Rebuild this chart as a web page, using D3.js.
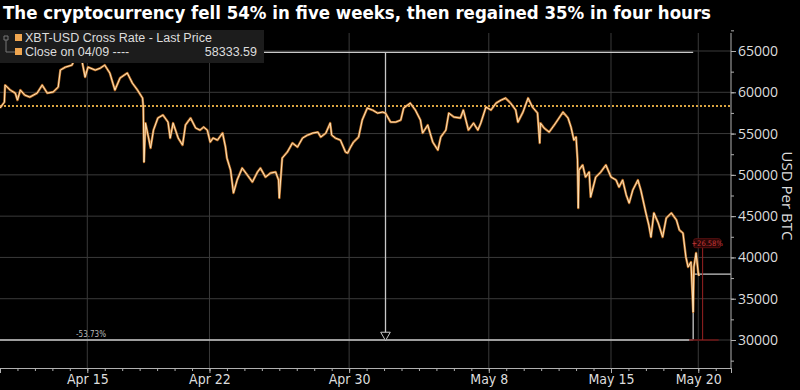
<!DOCTYPE html>
<html>
<head>
<meta charset="utf-8">
<script src="https://cdnjs.cloudflare.com/ajax/libs/d3/7.8.5/d3.min.js"></script>
<style>
  html, body { margin: 0; padding: 0; background: #000; }
  svg { display: block; }
</style>
</head>
<body>
<svg id="chart" width="800" height="390"></svg>
<script>
// XBT-USD price (roughly every few hours)
const times = [
  "2021-04-10 00","2021-04-10 06","2021-04-10 07","2021-04-10 10","2021-04-10 14","2021-04-10 21",
  "2021-04-11 00","2021-04-11 04","2021-04-11 10","2021-04-11 17","2021-04-12 03","2021-04-12 10",
  "2021-04-12 17","2021-04-13 01","2021-04-13 08","2021-04-13 11","2021-04-13 18","2021-04-14 03",
  "2021-04-14 11","2021-04-14 17","2021-04-14 21","2021-04-15 01","2021-04-15 11","2021-04-15 18",
  "2021-04-16 00","2021-04-16 07","2021-04-16 14","2021-04-16 21","2021-04-17 07","2021-04-17 14",
  "2021-04-17 21","2021-04-18 04","2021-04-18 05","2021-04-18 06","2021-04-18 08","2021-04-18 12",
  "2021-04-18 15","2021-04-18 19","2021-04-19 01","2021-04-19 08","2021-04-19 15","2021-04-19 18",
  "2021-04-19 22","2021-04-20 05","2021-04-20 11","2021-04-20 15","2021-04-20 22","2021-04-21 05",
  "2021-04-21 11","2021-04-21 16","2021-04-21 21","2021-04-22 01","2021-04-22 05","2021-04-22 11",
  "2021-04-22 18","2021-04-22 22","2021-04-23 00","2021-04-23 05","2021-04-23 09","2021-04-23 14",
  "2021-04-23 21","2021-04-24 04","2021-04-24 11","2021-04-24 18","2021-04-24 22","2021-04-25 05",
  "2021-04-25 12","2021-04-25 19","2021-04-25 23","2021-04-26 00","2021-04-26 04","2021-04-26 11",
  "2021-04-26 18","2021-04-27 01","2021-04-27 08","2021-04-27 15","2021-04-27 22","2021-04-28 05",
  "2021-04-28 09","2021-04-28 16","2021-04-28 22","2021-04-29 00","2021-04-29 05","2021-04-29 12",
  "2021-04-29 19","2021-04-29 22","2021-04-30 02","2021-04-30 06","2021-04-30 13","2021-04-30 18",
  "2021-05-01 01","2021-05-01 08","2021-05-01 15","2021-05-01 22","2021-05-02 02","2021-05-02 09",
  "2021-05-02 16","2021-05-02 23","2021-05-03 03","2021-05-03 12","2021-05-03 19","2021-05-04 02",
  "2021-05-04 05","2021-05-04 12","2021-05-04 19","2021-05-05 02","2021-05-05 06","2021-05-05 13",
  "2021-05-05 17","2021-05-06 00","2021-05-06 09","2021-05-06 13","2021-05-06 20","2021-05-07 03",
  "2021-05-07 09","2021-05-07 13","2021-05-07 20","2021-05-08 03","2021-05-08 10","2021-05-08 17",
  "2021-05-08 23","2021-05-09 06","2021-05-09 13","2021-05-09 16","2021-05-09 23","2021-05-10 06",
  "2021-05-10 12","2021-05-10 19","2021-05-10 22","2021-05-10 23","2021-05-11 04","2021-05-11 11",
  "2021-05-11 18","2021-05-12 06","2021-05-12 13","2021-05-12 17","2021-05-12 21","2021-05-13 00",
  "2021-05-13 02","2021-05-13 03","2021-05-13 04","2021-05-13 09","2021-05-13 13","2021-05-13 18",
  "2021-05-13 20","2021-05-14 03","2021-05-14 10","2021-05-14 17","2021-05-15 00","2021-05-15 07",
  "2021-05-15 11","2021-05-15 16","2021-05-15 21","2021-05-16 01","2021-05-16 06","2021-05-16 13",
  "2021-05-16 17","2021-05-17 00","2021-05-17 04","2021-05-17 07","2021-05-17 11","2021-05-17 17",
  "2021-05-17 23","2021-05-18 04","2021-05-18 11","2021-05-18 18","2021-05-18 22","2021-05-19 03",
  "2021-05-19 07","2021-05-19 10","2021-05-19 14","2021-05-19 17","2021-05-19 18","2021-05-19 21",
  "2021-05-20 00","2021-05-20 01"
];
const prices = [
  58090,58810,60870,60630,60270,59900,
  59060,60270,59660,59420,59900,60870,
  59900,60030,60630,62690,63050,63290,
  64836,63660,61840,63050,62690,62930,
  63290,62330,60270,61720,62330,61110,
  60270,59300,58210,51550,56270,54580,
  53250,55420,56880,57240,56390,54460,
  56270,54460,53610,56030,56880,55670,
  55420,55790,55420,53970,54460,54210,
  55060,53370,52030,50580,47800,49370,
  50820,49980,49130,50340,50820,49730,
  50220,50340,49370,47190,52030,52760,
  53850,53370,54460,54820,55060,55180,
  54580,55060,56270,54820,54460,54210,
  52760,52640,53370,53970,54580,56640,
  58090,57850,57480,57600,57480,56390,
  56390,56640,58090,58690,57850,56640,
  55060,56030,53970,53000,54580,55420,
  57480,57000,56880,57850,55420,56270,
  55420,56270,58210,57850,58690,59060,
  59300,58690,57850,56390,57600,59300,
  58210,57480,53850,56270,55670,55180,
  56030,57600,56880,55790,54210,54580,
  51790,45980,50580,51190,49730,50340,
  47310,49730,50340,51190,49730,49370,
  48520,49370,47550,46590,48160,49370,
  48160,45380,43920,42470,45380,44170,
  42470,44770,45380,44530,43320,42950,
  40050,38840,39440,33390,38840,40530,
  38110,37750
];

const tickDates = ["2021-04-15 00","2021-04-22 00","2021-04-30 00","2021-05-08 00","2021-05-15 00","2021-05-20 00"];
const tickLabels = ["Apr 15","Apr 22","Apr 30","May 8","May 15","May 20"];
const yTicks = [30000,35000,40000,45000,50000,55000,60000,65000];

const closeValue = 58333.59;           // close on 04/09
const highPoint = ["2021-04-14 11", 64836];
const lowPoint = ["2021-05-19 17", 30000];
const reboundValue = 37974;            // low + 26.58%
const reboundMark = ["2021-05-20 06", 41300];
const dropLabel = "-53.73%";
const riseLabel = "+26.58%";

const title = "The cryptocurrency fell 54% in five weeks, then regained 35% in four hours";

const parse = d3.timeParse("%Y-%m-%d %H");
const data = times.map((t, i) => ({ date: parse(t), value: prices[i] }));

const svg = d3.select("#chart");
const plotLeft = 0, plotRight = 731, plotTop = 33, plotBottom = 368;

const x = d3.scaleTime()
  .domain([parse("2021-04-10 00"), parse("2021-05-21 21")])
  .range([plotLeft, plotRight]);

const y = d3.scaleLinear()
  .domain([30000, 65000])
  .range([340, 51]);

// title
svg.append("text")
  .attr("x", 3).attr("y", 19)
  .attr("fill", "#fff")
  .attr("font-family", "'DejaVu Sans Condensed', 'DejaVu Sans', sans-serif")
  .attr("font-weight", "bold")
  .attr("font-size", 17)
  .attr("textLength", 708)
  .attr("lengthAdjust", "spacingAndGlyphs")
  .text(title);

// grid
const grid = svg.append("g");
grid.selectAll(".hg").data(yTicks).enter().append("line")
  .attr("x1", plotLeft).attr("x2", plotRight)
  .attr("y1", d => y(d)).attr("y2", d => y(d))
  .attr("stroke", "#3a3a3a").attr("stroke-width", 1);
grid.selectAll(".vg").data(tickDates).enter().append("line")
  .attr("x1", d => x(parse(d))).attr("x2", d => x(parse(d)))
  .attr("y1", plotTop).attr("y2", plotBottom)
  .attr("stroke", "#3a3a3a").attr("stroke-width", 1);

// close on 04/09 dotted line
svg.append("line")
  .attr("x1", plotLeft).attr("x2", plotRight)
  .attr("y1", y(closeValue)).attr("y2", y(closeValue))
  .attr("stroke", "#d9a441").attr("stroke-width", 2)
  .attr("stroke-dasharray", "2,2");

// drawdown annotation (grey)
const annColor = "#c8c8c8";
const hx = x(parse(highPoint[0])), lx = x(parse(lowPoint[0]));
const midX = (hx + lx) / 2;
svg.append("line")
  .attr("x1", hx).attr("x2", lx)
  .attr("y1", y(highPoint[1])).attr("y2", y(highPoint[1]))
  .attr("stroke", annColor).attr("stroke-width", 1.3);
svg.append("line")
  .attr("x1", plotLeft).attr("x2", lx)
  .attr("y1", y(lowPoint[1])).attr("y2", y(lowPoint[1]))
  .attr("stroke", annColor).attr("stroke-width", 1.3);
svg.append("line")
  .attr("x1", midX).attr("x2", midX)
  .attr("y1", y(highPoint[1])).attr("y2", y(lowPoint[1]) - 2)
  .attr("stroke", annColor).attr("stroke-width", 1.3);
svg.append("path")
  .attr("d", d3.symbol().type(d3.symbolTriangle).size(40))
  .attr("transform", `translate(${midX},${y(lowPoint[1]) - 5}) rotate(180)`)
  .attr("fill", "#000").attr("stroke", annColor).attr("stroke-width", 1);
svg.append("text")
  .attr("x", 76).attr("y", y(lowPoint[1]) - 3)
  .attr("fill", "#bbb").attr("font-size", 8)
  .attr("font-family", "'DejaVu Sans Condensed', sans-serif")
  .text(dropLabel);

// rebound annotation
svg.append("line")
  .attr("x1", lx).attr("x2", lx)
  .attr("y1", y(lowPoint[1])).attr("y2", y(reboundValue))
  .attr("stroke", annColor).attr("stroke-width", 1.3);
svg.append("line")
  .attr("x1", lx).attr("x2", plotRight)
  .attr("y1", y(reboundValue)).attr("y2", y(reboundValue))
  .attr("stroke", annColor).attr("stroke-width", 1.3);

// price line: orange glow + light core
const line = d3.line().x(d => x(d.date)).y(d => y(d.value));
svg.append("path").datum(data)
  .attr("d", line).attr("fill", "none")
  .attr("stroke", "#e08a35").attr("stroke-width", 2.4)
  .attr("stroke-opacity", 0.85).attr("stroke-linejoin", "round");
svg.append("path").datum(data)
  .attr("d", line).attr("fill", "none")
  .attr("stroke", "#ffe3b8").attr("stroke-width", 1)
  .attr("stroke-linejoin", "round");

// red rebound marker (dim, as in the original)
const rx = x(parse(reboundMark[0]));
const red = svg.append("g");
red.append("line")
  .attr("x1", lx - 4).attr("x2", rx + 16)
  .attr("y1", y(lowPoint[1])).attr("y2", y(lowPoint[1]))
  .attr("stroke", "#6a1414").attr("stroke-width", 2).attr("stroke-opacity", 0.8);
red.append("line")
  .attr("x1", rx).attr("x2", rx)
  .attr("y1", y(lowPoint[1])).attr("y2", y(reboundMark[1]))
  .attr("stroke", "#9a2222").attr("stroke-width", 1);
red.append("rect")
  .attr("x", rx - 9).attr("y", y(reboundMark[1]) - 8)
  .attr("width", 27).attr("height", 9).attr("rx", 2)
  .attr("fill", "#2a0606").attr("stroke", "#5a1010").attr("stroke-width", 1);
red.append("text")
  .attr("x", rx + 4.5).attr("y", y(reboundMark[1]) - 1)
  .attr("text-anchor", "middle")
  .attr("fill", "#c03636").attr("font-size", 7.5)
  .attr("font-family", "'DejaVu Sans Condensed', sans-serif")
  .text(riseLabel);

// x axis
const axisColor = "#b0b0b0";
const xMinor = svg.append("g")
  .attr("transform", `translate(0,${plotBottom})`)
  .call(d3.axisBottom(x).ticks(d3.timeDay.every(1)).tickSize(3).tickFormat(""));
const xAxis = svg.append("g")
  .attr("transform", `translate(0,${plotBottom})`)
  .call(d3.axisBottom(x).tickValues(tickDates.map(parse)).tickSize(5)
    .tickFormat((d, i) => tickLabels[i]));
[xMinor, xAxis].forEach(g => {
  g.selectAll("path, line").attr("stroke", axisColor);
});
xAxis.selectAll("text")
  .attr("fill", "#ddd").attr("font-size", 14).attr("dy", "0.6em")
  .attr("font-family", "'DejaVu Sans Condensed', sans-serif");

// y axis on the right
const yMinor = svg.append("g")
  .attr("transform", `translate(${plotRight},0)`)
  .call(d3.axisRight(y).tickValues(d3.range(27500, 67501, 2500)).tickSize(3).tickFormat(""));
yMinor.select(".domain").remove();
const yAxis = svg.append("g")
  .attr("transform", `translate(${plotRight},0)`)
  .call(d3.axisRight(y).tickValues(yTicks).tickSize(5).tickFormat(d3.format("d")));
yAxis.select(".domain").remove();
[yMinor, yAxis].forEach(g => g.selectAll("line").attr("stroke", axisColor));
yAxis.selectAll("text")
  .attr("fill", "#ddd").attr("font-size", 14).attr("x", 7)
  .attr("font-family", "'Open Sans', 'DejaVu Sans', sans-serif");
svg.append("line")
  .attr("x1", plotRight).attr("x2", plotRight)
  .attr("y1", plotTop).attr("y2", plotBottom)
  .attr("stroke", axisColor);

svg.append("text")
  .attr("transform", "translate(782,196) rotate(90)")
  .attr("text-anchor", "middle")
  .attr("fill", "#ddd").attr("font-size", 15)
  .attr("font-family", "'Open Sans', 'DejaVu Sans', sans-serif")
  .text("USD Per BTC");

// legend
const legend = svg.append("g");
legend.append("rect")
  .attr("x", 0).attr("y", 30).attr("width", 264).attr("height", 33)
  .attr("fill", "#1c1c1c");
legend.append("path")
  .attr("d", "M4,36 h4 v4 h-4 z M6,40 v12 h9")
  .attr("fill", "none").attr("stroke", "#777").attr("stroke-width", 1);
const legendRows = [
  { label: "XBT-USD Cross Rate - Last Price", value: "" },
  { label: "Close on 04/09 ----", value: d3.format(".2f")(closeValue) }
];
legendRows.forEach((r, i) => {
  const cy = 38 + i * 14;
  legend.append("rect")
    .attr("x", 15).attr("y", cy - 4).attr("width", 7).attr("height", 7)
    .attr("fill", "#f0a650");
  legend.append("text")
    .attr("x", 25).attr("y", cy + 4)
    .attr("fill", "#ddd").attr("font-size", 12.5)
    .attr("font-family", "'Liberation Sans', Arial, sans-serif")
    .text(r.label);
  if (r.value) {
    legend.append("text")
      .attr("x", 257).attr("y", cy + 4)
      .attr("text-anchor", "end")
      .attr("fill", "#ddd").attr("font-size", 12.5)
      .attr("font-family", "'Liberation Sans', Arial, sans-serif")
      .text(r.value);
  }
});
</script>
</body>
</html>
